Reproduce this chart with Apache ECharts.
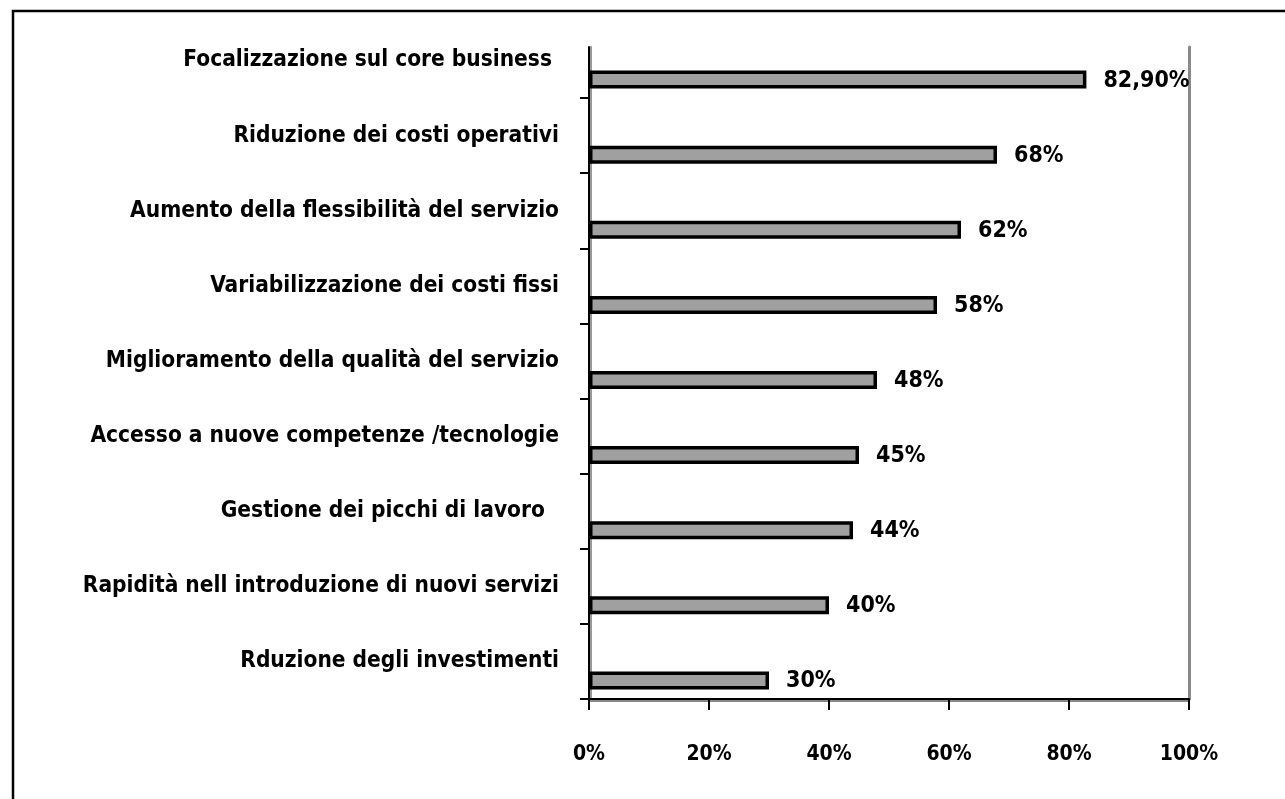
<!DOCTYPE html>
<html>
<head>
<meta charset="utf-8">
<title>Motivazioni</title>
<script src="https://cdn.jsdelivr.net/npm/echarts@6/dist/echarts.min.js"></script>
<style>
  html, body { margin: 0; padding: 0; background: #fff; }
  #chart { width: 1285px; height: 799px; }
</style>
</head>
<body>
<div id="chart"></div>
<script>
// Categories, top to bottom
const categories = [
  'Focalizzazione sul core business ',
  'Riduzione dei costi operativi',
  'Aumento della flessibilità del servizio',
  'Variabilizzazione dei costi fissi',
  'Miglioramento della qualità del servizio',
  'Accesso a nuove competenze /tecnologie',
  'Gestione dei picchi di lavoro  ',
  'Rapidità nell introduzione di nuovi servizi',
  'Rduzione degli investimenti'
];
// Share of respondents (%)
const values = [82.9, 68, 62, 58, 48, 45, 44, 40, 30];
// Value axis ticks
const axisMin = 0;
const axisMax = 100;
const axisStep = 20;

const FONT = "'Liberation Sans Narrow', 'DejaVu Sans Condensed', 'Arial Narrow', sans-serif";

function pct(v) {
  return Number.isInteger(v) ? v + '%' : v.toFixed(2).replace('.', ',') + '%';
}

const chart = echarts.init(document.getElementById('chart'), null, { renderer: 'canvas' });

const G = { left: 589, right: 96 };

chart.setOption({
  backgroundColor: '#fff',
  animation: false,
  graphic: [{
    type: 'polyline',
    shape: { points: [[13, 799], [13, 11], [1285, 11]] },
    style: { stroke: '#000', lineWidth: 2.5, fill: null },
    silent: true
  }],
  grid: [
    // category labels, ticks and value axis
    { left: G.left, right: G.right, top: 23, bottom: 100 },
    // vertical axis lines
    { left: G.left, right: G.right, top: 47, bottom: 100 },
    // bars, sitting in the lower half of each category band
    { left: G.left, right: G.right, top: 42, bottom: 81 }
  ],
  xAxis: [
    {
      gridIndex: 0, type: 'value', min: axisMin, max: axisMax, interval: axisStep,
      axisLine: { show: true, lineStyle: { color: '#000', width: 2, shadowColor: '#888', shadowOffsetY: 2 } },
      axisTick: { show: true, length: 11, lineStyle: { color: '#000', width: 2 } },
      axisLabel: {
        formatter: '{value}%', margin: 45, color: '#000',
        fontFamily: FONT, fontWeight: 'bold', fontSize: 21
      },
      splitLine: { show: false }
    },
    { gridIndex: 1, type: 'value', min: axisMin, max: axisMax, show: false },
    { gridIndex: 2, type: 'value', min: axisMin, max: axisMax, show: false }
  ],
  yAxis: [
    {
      gridIndex: 0, type: 'category', inverse: true, data: categories,
      axisLine: { show: false },
      axisTick: {
        show: true, length: 9,
        interval: function (i) { return i !== 0; },
        lineStyle: { color: '#000', width: 2 }
      },
      axisLabel: {
        margin: 30, color: '#000', fontFamily: FONT, fontWeight: 'bold', fontSize: 22.5
      },
      splitLine: { show: false }
    },
    {
      gridIndex: 1, type: 'value', position: 'left', min: 0, max: 1,
      axisLine: { show: true, lineStyle: { color: '#000', width: 2, shadowColor: '#999', shadowOffsetX: 2 } },
      axisTick: { show: false }, axisLabel: { show: false }, splitLine: { show: false }
    },
    {
      gridIndex: 1, type: 'value', position: 'right', min: 0, max: 1,
      axisLine: { show: true, lineStyle: { color: '#8a8a8a', width: 3 } },
      axisTick: { show: false }, axisLabel: { show: false }, splitLine: { show: false }
    },
    {
      gridIndex: 2, type: 'category', inverse: true, data: categories, show: false
    }
  ],
  series: [{
    type: 'bar',
    name: 'Motivazioni',
    xAxisIndex: 2,
    yAxisIndex: 3,
    data: values,
    barWidth: 18,
    itemStyle: {
      color: '#a0a0a0',
      borderColor: '#000',
      borderWidth: 3.5
    },
    label: {
      show: true,
      position: 'right',
      distance: 17,
      offset: [0, 1],
      color: '#000',
      fontFamily: FONT,
      fontWeight: 'bold',
      fontSize: 23,
      formatter: function (p) { return pct(p.value); }
    }
  }]
});
</script>
</body>
</html>
